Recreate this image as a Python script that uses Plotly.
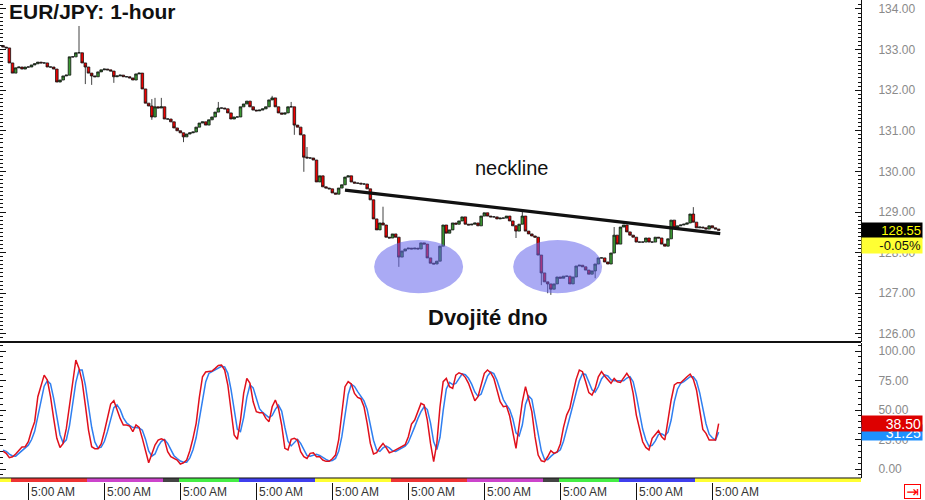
import plotly.graph_objects as go

# ---------------- data ----------------
first_open = 133.10
closes = [
    133.06, 133.04, 132.67, 132.42, 132.55, 132.57, 132.52, 132.57, 132.57, 132.62,
    132.65, 132.69, 132.67, 132.67, 132.57, 132.57, 132.52, 132.20, 132.25, 132.35,
    132.37, 132.82, 132.82, 132.92, 132.92, 132.67, 132.57, 132.42, 132.35, 132.33,
    132.45, 132.50, 132.52, 132.50, 132.47, 132.33, 132.35, 132.37, 132.33, 132.33,
    132.30, 132.25, 132.40, 132.42, 132.03, 131.68, 131.61, 131.34, 131.59, 131.56,
    131.59, 131.29, 131.29, 131.22, 131.07, 131.00, 130.95, 130.85, 130.92, 130.95,
    130.97, 131.09, 131.19, 131.22, 131.14, 131.27, 131.34, 131.46, 131.56, 131.56,
    131.54, 131.44, 131.29, 131.34, 131.34, 131.59, 131.66, 131.73, 131.59, 131.51,
    131.49, 131.51, 131.54, 131.59, 131.76, 131.81, 131.59, 131.44, 131.41, 131.44,
    131.59, 131.59, 131.14, 131.09, 130.90, 130.35, 130.33, 130.33, 130.28, 129.74,
    129.89, 129.62, 129.59, 129.57, 129.47, 129.44, 129.59, 129.67, 129.86, 129.89,
    129.74, 129.71, 129.71, 129.69, 129.69, 129.57, 129.30, 128.83, 128.56, 128.73,
    128.68, 128.38, 128.36, 128.46, 128.38, 127.89, 128.04, 128.09, 128.11, 128.09,
    128.11, 128.09, 128.24, 128.21, 127.87, 127.74, 127.72, 127.79, 128.16, 128.68,
    128.48, 128.56, 128.73, 128.70, 128.78, 128.88, 128.70, 128.68, 128.70, 128.73,
    128.66, 128.90, 128.98, 128.90, 128.88, 128.88, 128.83, 128.85, 128.85, 128.90,
    128.78, 128.66, 128.53, 128.70, 128.90, 128.53, 128.46, 128.41, 128.38, 127.94,
    127.50, 127.28, 127.23, 127.10, 127.23, 127.40, 127.37, 127.42, 127.42, 127.23,
    127.40, 127.67, 127.69, 127.65, 127.57, 127.47, 127.55, 127.72, 127.87, 127.87,
    127.77, 127.72, 127.99, 128.43, 128.21, 128.63, 128.68, 128.51, 128.43, 128.38,
    128.26, 128.26, 128.26, 128.36, 128.26, 128.26, 128.38, 128.36, 128.21, 128.16,
    128.34, 128.80, 128.61, 128.66, 128.68, 128.70, 128.73, 128.95, 128.75, 128.61,
    128.63, 128.61, 128.58, 128.66, 128.61, 128.58, 128.55,
]
wick_hi_idx = [24, 47, 48, 50, 68, 85, 91, 96, 120, 164, 193, 218]
wick_hi_val = [133.58, 131.78, 131.81, 131.81, 131.71, 131.86, 131.71, 130.60, 129.13, 129.03, 128.63, 129.12]
wick_lo_idx = [26, 28, 35, 47, 57, 92, 95, 125, 162, 170, 172, 173, 187]
wick_lo_val = [132.15, 132.13, 132.18, 131.27, 130.72, 130.90, 129.99, 127.65, 128.36, 127.20, 127.00, 126.96, 127.37]

stoch_k = [
    15.2, 13.3, 9.6, 10.4, 12.7, 16.1, 18.6, 18.9, 23.1, 32.5,
    40.1, 61.3, 69.8, 79.6, 75.4, 61.3, 42.9, 26.0, 18.3, 21.7,
    34.4, 54.2, 74.0, 92.4, 85.3, 74.0, 54.2, 33.0, 18.9, 17.2,
    17.2, 21.2, 31.6, 42.9, 55.1, 57.9, 50.0, 42.9, 37.3, 37.3,
    36.4, 31.6, 37.3, 35.3, 26.0, 14.7, 5.3, 12.7, 20.3, 24.6,
    25.7, 24.6, 14.7, 10.4, 8.7, 7.6, 4.2, 5.3, 7.6, 15.5,
    26.0, 38.7, 60.7, 78.2, 82.2, 82.5, 83.0, 85.3, 87.8, 88.1,
    83.9, 71.2, 47.2, 28.8, 25.1, 41.5, 64.1, 76.8, 72.6, 57.0,
    48.6, 47.7, 47.7, 42.9, 40.1, 52.8, 58.5, 51.4, 37.3, 17.5,
    16.1, 25.1, 26.0, 24.6, 14.7, 10.4, 9.0, 13.3, 13.8, 10.4,
    10.4, 7.6, 6.5, 6.5, 8.7, 11.8, 24.6, 45.7, 69.8, 74.0,
    72.0, 64.1, 60.7, 59.6, 52.8, 38.7, 21.7, 12.7, 13.8, 18.3,
    21.7, 18.1, 13.8, 14.7, 16.1, 17.8, 19.5, 20.6, 27.4, 38.1,
    41.5, 48.6, 55.6, 54.2, 41.5, 21.7, 6.2, 21.7, 52.8, 74.0,
    76.8, 69.8, 68.3, 79.6, 81.6, 80.5, 77.7, 72.6, 65.5, 57.9,
    61.3, 71.2, 81.1, 83.9, 81.6, 76.8, 67.0, 57.0, 52.8, 53.4,
    44.9, 29.6, 17.5, 37.3, 57.0, 69.8, 59.0, 48.6, 27.4, 11.8,
    7.0, 6.2, 10.4, 15.5, 13.3, 14.4, 21.2, 35.3, 45.7, 51.4,
    64.1, 76.0, 83.9, 82.5, 74.0, 64.7, 62.7, 68.3, 78.2, 82.5,
    78.8, 75.4, 72.6, 76.8, 74.0, 73.4, 76.8, 81.1, 76.8, 64.1,
    45.7, 33.0, 23.1, 18.3, 16.1, 26.0, 29.6, 32.5, 27.4, 24.6,
    41.5, 58.5, 71.2, 73.1, 73.1, 76.0, 78.2, 80.5, 76.0, 67.0,
    51.4, 33.6, 30.2, 24.6, 24.6, 24.6, 38.5,
]
stoch_d = [
    16.0, 15.0, 12.7, 11.1, 10.9, 13.1, 15.8, 17.9, 20.2, 24.8,
    31.9, 44.6, 57.1, 70.2, 74.9, 72.1, 59.9, 43.4, 29.1, 22.0,
    24.8, 36.8, 54.2, 73.5, 83.9, 83.9, 71.2, 53.7, 35.4, 23.0,
    17.8, 18.5, 23.3, 31.9, 43.2, 52.0, 54.3, 50.3, 43.4, 39.2,
    37.0, 35.1, 35.1, 34.7, 32.9, 25.3, 15.3, 10.9, 12.8, 19.2,
    23.5, 25.0, 21.7, 16.6, 11.3, 8.9, 6.8, 5.7, 5.7, 9.5,
    16.4, 26.7, 41.8, 59.2, 73.7, 81.0, 82.6, 83.6, 85.4, 87.1,
    86.6, 81.1, 67.4, 49.1, 33.7, 31.8, 43.6, 60.8, 71.2, 68.8,
    59.4, 51.1, 48.0, 46.1, 43.6, 45.3, 50.5, 54.2, 49.1, 35.4,
    23.6, 19.6, 22.4, 25.2, 21.8, 16.6, 11.4, 10.9, 12.0, 12.5,
    11.5, 9.5, 8.2, 6.9, 7.2, 9.0, 15.0, 27.4, 46.7, 63.2,
    71.9, 70.0, 65.6, 61.5, 57.7, 50.4, 37.7, 24.4, 16.1, 14.9,
    17.9, 19.4, 17.9, 15.5, 14.9, 16.2, 17.8, 19.3, 22.5, 28.7,
    35.7, 42.7, 48.6, 52.8, 50.4, 39.1, 23.1, 16.5, 26.9, 49.5,
    67.9, 73.5, 71.6, 72.6, 76.5, 80.6, 79.9, 76.9, 71.9, 65.3,
    61.6, 63.5, 71.2, 78.7, 82.2, 80.8, 75.1, 66.9, 58.9, 54.4,
    50.4, 42.6, 30.7, 28.1, 37.3, 54.7, 61.9, 59.1, 45.0, 29.3,
    15.4, 8.3, 7.9, 10.7, 13.1, 14.4, 16.3, 23.6, 34.1, 44.1,
    53.7, 63.8, 74.7, 80.8, 80.1, 73.7, 67.1, 65.2, 69.7, 76.3,
    79.8, 78.9, 75.6, 74.9, 74.5, 74.7, 74.7, 77.1, 78.2, 74.0,
    62.2, 47.6, 33.9, 24.8, 19.2, 20.1, 23.9, 29.4, 29.8, 28.2,
    31.2, 41.5, 57.1, 67.6, 72.5, 74.1, 75.8, 78.2, 78.2, 74.5,
    64.8, 50.7, 38.4, 29.5, 26.5, 24.6, 31.25,
]

day_tick_idx = [8, 32, 56, 80, 104, 128, 152, 176, 200, 224]
day_tick_labels = ["5:00 AM"] * 10
session_starts = [-0.95, 2.5, 26.5, 50.5, 55.5, 74.5, 98.5, 122.5, 146.5, 170.5, 175.5, 194.5, 218.5]
session_ends = [2.5, 26.5, 50.5, 55.5, 74.5, 98.5, 122.5, 146.5, 170.5, 175.5, 194.5, 218.5, 270.95]
session_colors = ["#ffff33", "#ee3333", "#cc44cc", "#444444", "#44ee44", "#3f3fee",
                  "#ffff33", "#ee3333", "#cc44cc", "#444444", "#44ee44", "#3f3fee", "#ffff33"]

neckline_idx = [108.0, 226.5]
neckline_price = [129.54, 128.47]
bottom_idx_ranges = [(117.2, 145.3), (161.1, 189.2)]
bottom_price_range = (127.00, 128.31)

last_price = "128.55"
last_change = "-0.05%"
k_last_label = "38.50"
d_last_label = "31.25"

# ---------------- figure ----------------
FONT = "Liberation Sans, Arial, sans-serif"
n = len(closes)
xs = list(range(n))
opens = [first_open] + closes[:-1]
highs = [max(o, c) for o, c in zip(opens, closes)]
lows = [min(o, c) for o, c in zip(opens, closes)]
for i, v in zip(wick_hi_idx, wick_hi_val):
    highs[i] = max(highs[i], v)
for i, v in zip(wick_lo_idx, wick_lo_val):
    lows[i] = min(lows[i], v)

fig = go.Figure()
fig.add_trace(go.Candlestick(
    x=xs, open=opens, high=highs, low=lows, close=closes,
    xaxis="x", yaxis="y",
    increasing=dict(fillcolor="#3c9a34", line=dict(color="#111111", width=0.8)),
    decreasing=dict(fillcolor="#f00000", line=dict(color="#111111", width=0.8)),
    whiskerwidth=0, showlegend=False, hoverinfo="skip",
))
fig.add_trace(go.Scatter(
    x=neckline_idx, y=neckline_price, mode="lines",
    line=dict(color="#111111", width=3.2), xaxis="x", yaxis="y",
    showlegend=False, hoverinfo="skip",
))
fig.add_trace(go.Scatter(
    x=xs, y=stoch_d, mode="lines", line=dict(color="#2f7ff0", width=1.5),
    xaxis="x", yaxis="y2", showlegend=False, hoverinfo="skip",
))
fig.add_trace(go.Scatter(
    x=xs, y=stoch_k, mode="lines", line=dict(color="#e0101c", width=1.5),
    xaxis="x", yaxis="y2", showlegend=False, hoverinfo="skip",
))
fig.add_trace(go.Bar(
    y=[0] * len(session_starts),
    x=[e - s for s, e in zip(session_starts, session_ends)],
    base=session_starts, orientation="h", width=1,
    marker=dict(color=session_colors, line=dict(width=0)),
    xaxis="x", yaxis="y3", showlegend=False, hoverinfo="skip",
))

shapes = []
for (a, b) in bottom_idx_ranges:
    shapes.append(dict(type="circle", xref="x", yref="y", x0=a, x1=b,
                       y0=bottom_price_range[0], y1=bottom_price_range[1],
                       fillcolor="rgba(100,100,235,0.55)", line=dict(width=0), layer="above"))
shapes.append(dict(type="line", xref="paper", yref="paper", x0=0, x1=1, y0=0.2905, y1=0.2905,
                   line=dict(color="#111111", width=2)))
shapes.append(dict(type="line", xref="paper", yref="paper", x0=0, x1=1, y0=0.0083, y1=0.0083,
                   line=dict(color="#111111", width=1)))

annotations = [
    dict(text="EUR/JPY: 1-hour", xref="paper", yref="paper", x=0.008, y=1.0,
         xanchor="left", yanchor="top", yshift=2, showarrow=False,
         font=dict(family=FONT, size=21, color="#111111", weight="bold")),
    dict(text="neckline", xref="x", yref="y", x=160.7, y=130.08, showarrow=False,
         font=dict(family=FONT, size=20, color="#111111")),
    dict(text="Dvojité dno", xref="x", yref="y", x=153.2, y=126.41, showarrow=False,
         font=dict(family=FONT, size=22, color="#111111", weight="bold")),
    dict(text=last_price, xref="paper", yref="y", x=1.0, y=float(last_price),
         xanchor="left", yanchor="middle", showarrow=False, width=58, height=13, align="right",
         bgcolor="#000000", borderpad=1, font=dict(family=FONT, size=13, color="#ffff00")),
    dict(text=last_change, xref="paper", yref="y", x=1.0, y=float(last_price), yshift=-15,
         xanchor="left", yanchor="middle", showarrow=False, width=58, height=13, align="right",
         bgcolor="#ffff33", borderpad=1, font=dict(family=FONT, size=13, color="#111111")),
    dict(text=d_last_label, xref="paper", yref="y2", x=1.0, y=float(d_last_label),
         xanchor="left", yanchor="middle", showarrow=False, width=58, height=13, align="right",
         bgcolor="#1e90ff", borderpad=1, font=dict(family=FONT, size=14, color="#ffffff")),
    dict(text=k_last_label, xref="paper", yref="y2", x=1.0, y=float(k_last_label),
         xanchor="left", yanchor="middle", showarrow=False, width=58, height=13, align="right",
         bgcolor="#dd0000", borderpad=1, font=dict(family=FONT, size=14, color="#ffffff")),
    dict(text="⇥", xref="paper", yref="paper", x=1.06, y=-0.019, xanchor="center", yanchor="middle",
         showarrow=False, bordercolor="#ff0000", borderwidth=1, borderpad=0, bgcolor="#ffffff",
         width=15, height=13,
         font=dict(family="DejaVu Sans", size=15, color="#ff0000")),
]
for tv, tl in zip(day_tick_idx, day_tick_labels):
    annotations.append(dict(text=tl, xref="x", yref="paper", x=tv, y=-0.02,
                            xanchor="left", yanchor="middle", xshift=1, showarrow=False,
                            font=dict(family=FONT, size=12, color="#333333")))

axis_font = dict(family=FONT, size=12, color="#8a8a8a")
fig.update_layout(
    width=925, height=500,
    margin=dict(l=0, r=64, t=0, b=18),
    paper_bgcolor="white", plot_bgcolor="white",
    showlegend=False, boxgap=0.1, boxgroupgap=0.1, bargap=0,
    xaxis=dict(domain=[0, 1], range=[-0.95, 270.95], anchor="y3",
               showgrid=False, zeroline=False, showline=False,
               tickvals=day_tick_idx, ticks="outside", ticklen=18, tickcolor="#111111",
               showticklabels=False, rangeslider=dict(visible=False), fixedrange=True),
    yaxis=dict(domain=[0.2905, 1], range=[125.80, 134.22], anchor="x", side="right",
               showgrid=False, zeroline=False, showline=True, linecolor="#111111", linewidth=1,
               mirror="ticks", dtick=1, tick0=0, tickformat=".2f",
               ticks="inside", ticklen=6, tickcolor="#111111",
               minor=dict(dtick=0.1, ticks="inside", ticklen=3, tickcolor="#111111"),
               tickfont=axis_font, ticklabelstandoff=14),
    yaxis2=dict(domain=[0.0083, 0.2884], range=[-7.6, 106.8], anchor="x", side="right",
                showgrid=False, zeroline=False, showline=True, linecolor="#111111", linewidth=1,
                mirror="ticks", tickvals=[0, 25, 50, 75, 100], tickformat=".2f",
                ticks="inside", ticklen=6, tickcolor="#111111",
                minor=dict(dtick=5, ticks="inside", ticklen=3, tickcolor="#111111"),
                tickfont=axis_font, ticklabelstandoff=14),
    yaxis3=dict(domain=[0, 0.0083], range=[-0.5, 0.5], anchor="x", visible=False),
    shapes=shapes, annotations=annotations,
)

fig.write_html("out.html", config={"displayModeBar": False, "staticPlot": True},
               post_script="document.body.style.margin='0';document.body.style.overflow='hidden';")
